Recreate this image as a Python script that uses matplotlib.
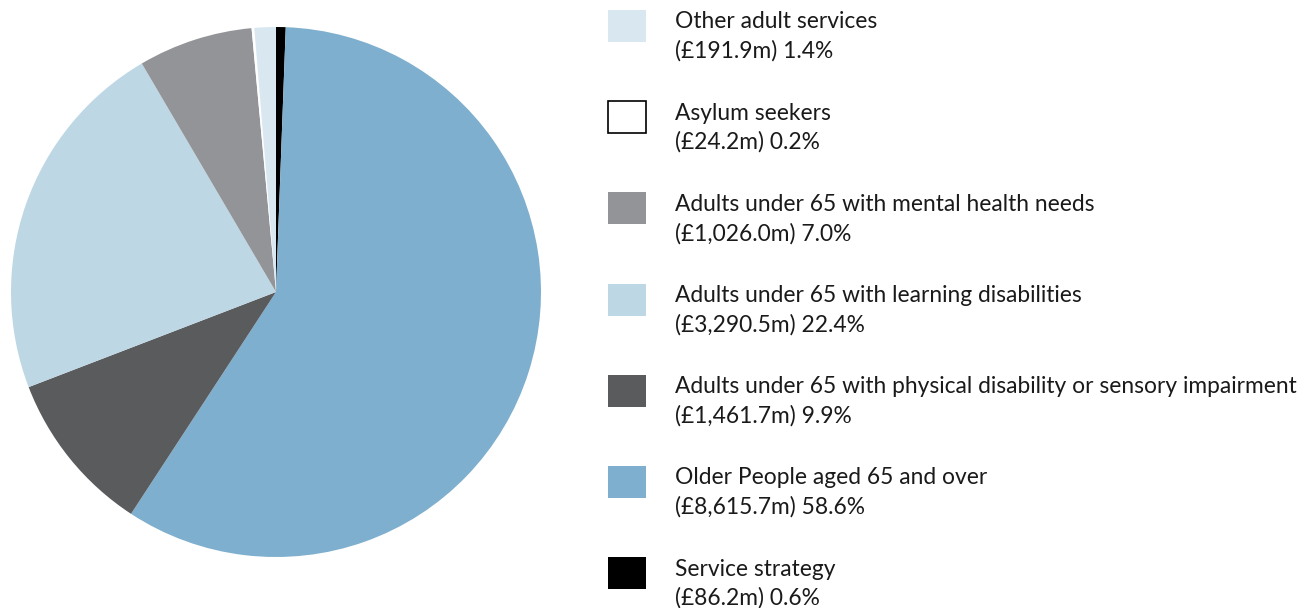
import matplotlib
matplotlib.use('Agg')
import matplotlib.pyplot as plt
from matplotlib.patches import Rectangle

plt.rcParams['font.family'] = ['Lato', 'DejaVu Sans']

# legend order (top to bottom)
names = [
    'Other adult services',
    'Asylum seekers',
    'Adults under 65 with mental health needs',
    'Adults under 65 with learning disabilities',
    'Adults under 65 with physical disability or sensory impairment',
    'Older People aged 65 and over',
    'Service strategy',
]
amounts = [191.9, 24.2, 1026.0, 3290.5, 1461.7, 8615.7, 86.2]   # £m
amount_labels = ['£191.9m', '£24.2m', '£1,026.0m', '£3,290.5m', '£1,461.7m', '£8,615.7m', '£86.2m']
percents = [1.4, 0.2, 7.0, 22.4, 9.9, 58.6, 0.6]
colors = ['#d9e7f1', '#ffffff', '#939498', '#bed7e5', '#5a5b5d', '#7fafce', '#000000']

# pie goes clockwise from the top starting with service strategy
pie_order = [6, 5, 4, 3, 2, 1, 0]

fig = plt.figure(figsize=(13.15, 6.08), dpi=100)

W, H = 1315, 608
cx, cy, r = 276, 292, 265
ax = fig.add_axes([(cx - r) / W, (H - cy - r) / H, 2 * r / W, 2 * r / H])
ax.pie([amounts[i] for i in pie_order],
       colors=[colors[i] for i in pie_order],
       startangle=90, counterclock=False,
       wedgeprops=dict(linewidth=0))
ax.set_xlim(-1, 1)
ax.set_ylim(-1, 1)
ax.set_aspect('equal')
ax.axis('off')

# legend drawn in pixel coordinates
lax = fig.add_axes([0, 0, 1, 1])
lax.set_xlim(0, W)
lax.set_ylim(H, 0)
lax.axis('off')

fs = 16.4
for i, name in enumerate(names):
    top = 10 + 91.2 * i
    edge = 'black' if colors[i] == '#ffffff' else 'none'
    lax.add_patch(Rectangle((608.5, top), 37.5, 32, facecolor=colors[i],
                            edgecolor=edge, linewidth=1.2))
    lax.text(675, top + 12, name, fontsize=fs, va='center', ha='left', color='#1a1a1a')
    lax.text(675, top + 41, f'({amount_labels[i]}) {percents[i]:.1f}%', fontsize=fs,
             va='center', ha='left', color='#1a1a1a')

plt.savefig('out.png', dpi=100)
plt.close()
